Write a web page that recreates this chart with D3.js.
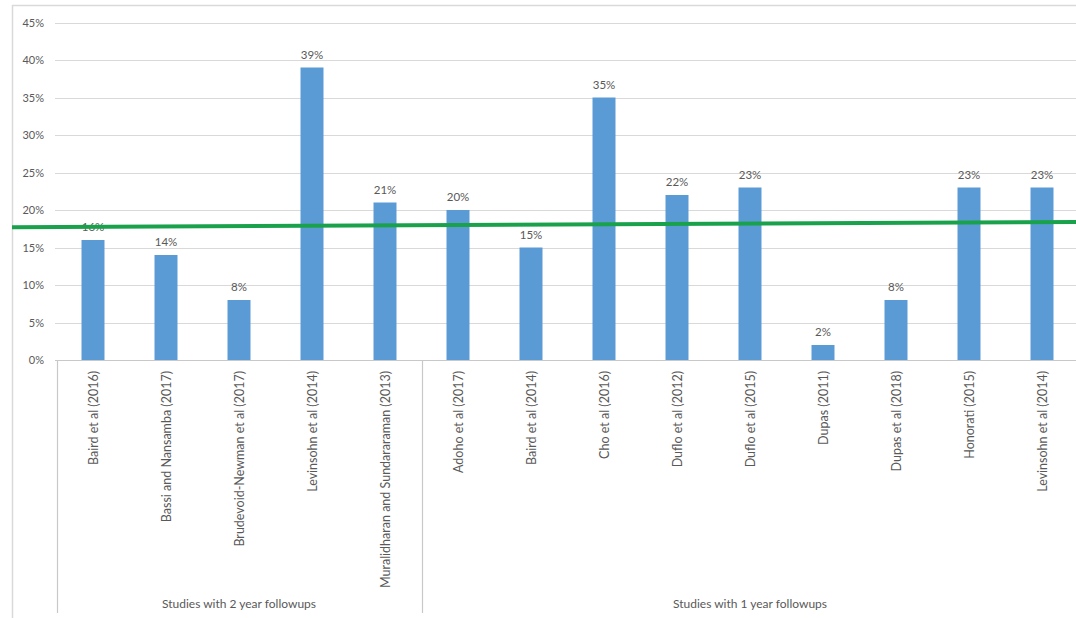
<!DOCTYPE html>
<html>
<head>
<meta charset="utf-8">
<script src="https://cdn.jsdelivr.net/npm/d3@7"></script>
<style>
  body { margin: 0; background: #fff; }
  svg text { font-family: Lato, "Open Sans", sans-serif; fill: #595959; }
</style>
</head>
<body>
<div id="chart"></div>
<script>
(function(){
  var svg,
      w = 1076,
      h = 618;

  // data
  var studies = ["Baird et al (2016)", "Bassi and Nansamba (2017)", "Brudevoid-Newman et al (2017)",
                 "Levinsohn et al (2014)", "Muralidharan and Sundararaman (2013)",
                 "Adoho et al (2017)", "Baird et al (2014)", "Cho et al (2016)", "Duflo et al (2012)",
                 "Duflo et al (2015)", "Dupas (2011)", "Dupas et al  (2018)", "Honorati (2015)",
                 "Levinsohn et al (2014) "];
  var effects = [0.16, 0.14, 0.08, 0.39, 0.21, 0.20, 0.15, 0.35, 0.22, 0.23, 0.02, 0.08, 0.23, 0.23];
  var groups = ["Studies with 2 year followups", "Studies with 1 year followups"];
  var groupSizes = [5, 9];
  var yTicks = [0, 0.05, 0.10, 0.15, 0.20, 0.25, 0.30, 0.35, 0.40, 0.45];
  var refLine = [0.177, 0.184];   // green line, value at left and right edge

  var x, y;

  function init () {
    createSvg();
    makeScales();
    drawGrid();
    drawBars();
    drawCategoryAxis();
    drawRefLine();
  }

  function createSvg () {
    svg = d3.select("#chart").append("svg")
      .attr("width", w)
      .attr("height", h);

    // chart frame (top and left edges visible)
    svg.append("line").attr("x1", 12).attr("x2", w).attr("y1", 5.5).attr("y2", 5.5)
      .attr("stroke", "#d9d9d9").attr("stroke-width", 1.5);
    svg.append("line").attr("x1", 12.5).attr("x2", 12.5).attr("y1", 5).attr("y2", h)
      .attr("stroke", "#d9d9d9").attr("stroke-width", 1.5);
  }

  function makeScales () {
    x = d3.scaleBand().domain(studies).range([56.5, 1078.5]);
    y = d3.scaleLinear().domain([0, 0.45]).range([360, 22.5]);
  }

  function drawGrid () {
    svg.append("g").selectAll("line")
      .data(yTicks)
      .enter().append("line")
        .attr("x1", 55).attr("x2", w)
        .attr("y1", function(d){ return Math.round(y(d)) + 0.5; })
        .attr("y2", function(d){ return Math.round(y(d)) + 0.5; })
        .attr("stroke", function(d){ return d === 0 ? "#c8c8c8" : "#d9d9d9"; })
        .attr("stroke-width", 1.2);

    svg.append("g").selectAll("text")
      .data(yTicks)
      .enter().append("text")
        .attr("x", 44)
        .attr("y", function(d){ return y(d) + 4; })
        .attr("text-anchor", "end")
        .style("font-size", "11px")
        .text(d3.format(".0%"));
  }

  function drawBars () {
    var bw = x.bandwidth() * 0.315;

    svg.selectAll(".bar")
      .data(effects)
      .enter().append("rect")
        .attr("class", "bar")
        .attr("x", function(d,i){ return x(studies[i]) + x.bandwidth()/2 - bw/2; })
        .attr("width", bw)
        .attr("y", function(d){ return y(d); })
        .attr("height", function(d){ return y(0) - y(d); })
        .attr("fill", "#5b9bd5");

    svg.selectAll(".lbl")
      .data(effects)
      .enter().append("text")
        .attr("class", "lbl")
        .attr("x", function(d,i){ return x(studies[i]) + x.bandwidth()/2; })
        .attr("y", function(d){ return y(d) - 9; })
        .attr("text-anchor", "middle")
        .style("font-size", "11.5px")
        .text(d3.format(".0%"));
  }

  function drawCategoryAxis () {
    svg.selectAll(".cat")
      .data(studies)
      .enter().append("text")
        .attr("class", "cat")
        .attr("transform", function(d){
          return "translate(" + (x(d) + x.bandwidth()/2 + 4.5) + ",371) rotate(-90)";
        })
        .attr("text-anchor", "end")
        .style("font-size", "12.5px")
        .text(function(d){ return d; });

    // group separators and group labels
    var start = 0, bounds = [];
    groupSizes.forEach(function(n, gi){
      bounds.push({ a: x(studies[start]), b: x(studies[start + n - 1]) + x.bandwidth(), name: groups[gi] });
      start += n;
    });

    var edges = [bounds[0].a].concat(bounds.map(function(g){ return g.b; }));
    svg.selectAll(".sep")
      .data(edges)
      .enter().append("line")
        .attr("class", "sep")
        .attr("x1", function(d){ return Math.round(d) + 0.5; })
        .attr("x2", function(d){ return Math.round(d) + 0.5; })
        .attr("y1", 360).attr("y2", 613)
        .attr("stroke", "#c8c8c8").attr("stroke-width", 1.2);

    svg.selectAll(".grp")
      .data(bounds)
      .enter().append("text")
        .attr("class", "grp")
        .attr("x", function(d){ return (d.a + d.b) / 2; })
        .attr("y", 608)
        .attr("text-anchor", "middle")
        .style("font-size", "12px")
        .text(function(d){ return d.name; });
  }

  function drawRefLine () {
    svg.append("line")
      .attr("x1", 12).attr("x2", w)
      .attr("y1", y(refLine[0])).attr("y2", y(refLine[1]))
      .attr("stroke", "#1aa14c")
      .attr("stroke-width", 4);
  }

  init();
})();
</script>
</body>
</html>
